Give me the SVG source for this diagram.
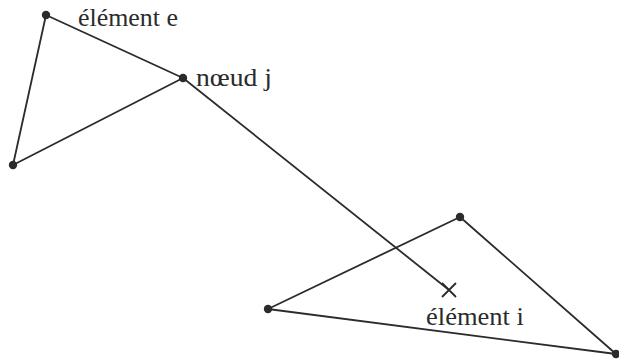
<svg xmlns="http://www.w3.org/2000/svg" width="619" height="361" viewBox="0 0 619 361">
<style>
.e{fill:none;stroke:#2b2b2b;stroke-width:1.8;stroke-linejoin:round}
.d{fill:#2b2b2b}
text{font-family:"Liberation Serif","Times New Roman",serif;font-size:25px;fill:#2b2b2b}
</style>
<rect width="619" height="361" fill="#fff"/>
<g id="element-e">
<polygon class="e" points="46,15 183,78 13,165"/>
<circle class="d" cx="46" cy="15" r="4.2"/>
<circle class="d" cx="13" cy="165" r="4.2"/>
<text x="78" y="26" textLength="100" lengthAdjust="spacingAndGlyphs">élément e</text>
</g>
<g id="noeud-j">
<circle class="d" cx="183" cy="78" r="4.2"/>
<text x="196" y="86" textLength="76" lengthAdjust="spacingAndGlyphs">nœud j</text>
</g>
<g id="element-i">
<polygon class="e" points="460,217 268,309 616,354"/>
<circle class="d" cx="460" cy="217" r="4.2"/>
<circle class="d" cx="268" cy="309" r="4.2"/>
<circle class="d" cx="616" cy="354" r="4.2"/>
<path class="e" d="M442,283 L456,297 M456,283 L442,297"/>
<text x="426" y="325" textLength="98" lengthAdjust="spacingAndGlyphs">élément i</text>
</g>
<g id="connectors">
<line class="e" x1="183" y1="78" x2="449" y2="290"/>
</g>
</svg>
